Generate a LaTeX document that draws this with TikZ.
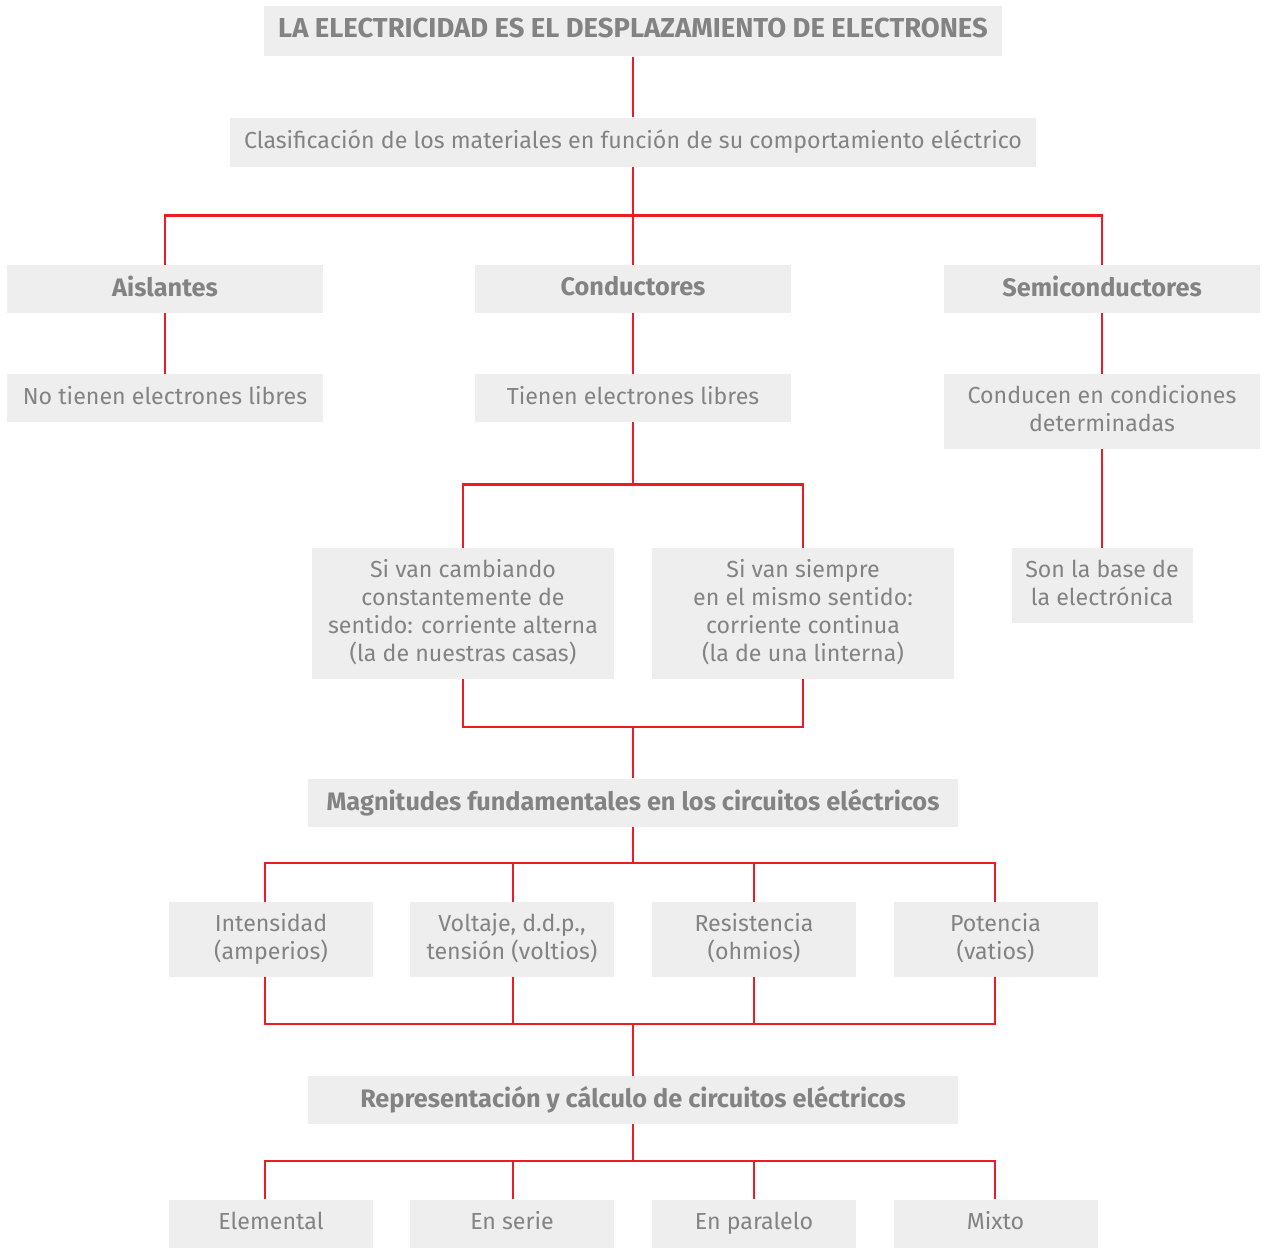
\documentclass[tikz,border=0pt]{standalone}
\usepackage{fontspec}
\setmainfont{Fira Sans}
\usepackage{tikz}
\usetikzlibrary{calc,positioning}
\definecolor{boxgray}{HTML}{EDEEED}
\definecolor{textgray}{HTML}{838383}
\definecolor{linered}{HTML}{EC1C24}
\tikzstyle{box}     = [fill=boxgray, text=textgray, align=center, inner sep=0pt, font=\fontsize{13.2}{15.9}\selectfont, execute at begin node={\rule[-3.2pt]{0pt}{12.8pt}}]
\tikzstyle{head}    = [box, font=\fontsize{14.4}{15.9}\selectfont\bfseries]
\tikzstyle{link}    = [linered, line width=1.6pt]

\begin{document}
\begin{tikzpicture}[x=0.02cm, y=-0.02cm]
        \useasboundingbox (0,0) rectangle (1266,1248);

        % top of the map
        \node[head, font=\fontsize{15.6}{15.9}\selectfont\bfseries, minimum width=14.78cm, minimum height=1.02cm] (title) at (633,31) {LA ELECTRICIDAD ES EL DESPLAZAMIENTO DE ELECTRONES};
        \node[box, minimum width=16.14cm, minimum height=0.98cm] (clasif) at (633,142) {Clasificación de los materiales en función de su comportamiento eléctrico};

        % three families of materials
        \node[head, minimum width=6.34cm, minimum height=0.96cm] (aisl) at (165,289) {Aislantes};
        \node[head, minimum width=6.34cm, minimum height=0.96cm] (cond) at (633,289) {Conductores};
        \node[head, minimum width=6.34cm, minimum height=0.96cm] (semi) at (1102,289) {Semiconductores};

        \node[box, minimum width=6.34cm, minimum height=0.96cm] (aisl2) at (165,398) {No tienen electrones libres};
        \node[box, minimum width=6.34cm, minimum height=0.96cm] (cond2) at (633,398) {Tienen electrones libres};
        \node[box, minimum width=6.34cm, minimum height=1.5cm] (semi2) at (1102,411.5) {Conducen en condiciones\\determinadas};

        % kinds of current
        \node[box, minimum width=6.04cm, minimum height=2.62cm] (alt) at (463,613.5) {Si van cambiando\\constantemente de\\sentido: corriente alterna\\(la de nuestras casas)};
        \node[box, minimum width=6.04cm, minimum height=2.62cm] (cont) at (803,613.5) {Si van siempre\\en el mismo sentido:\\corriente continua\\(la de una linterna)};
        \node[box, minimum width=3.62cm, minimum height=1.5cm] (semi3) at (1102,585.5) {Son la base de\\la electrónica};

        % magnitudes
        \node[head, minimum width=13cm, minimum height=0.96cm] (magn) at (633,802.5) {Magnitudes fundamentales en los circuitos eléctricos};
        \node[box, minimum width=4.08cm, minimum height=1.5cm] (int) at (271,939.5) {Intensidad\\(amperios)};
        \node[box, minimum width=4.08cm, minimum height=1.5cm] (volt) at (512,939.5) {Voltaje, d.d.p.,\\tensión (voltios)};
        \node[box, minimum width=4.08cm, minimum height=1.5cm] (res) at (754,939.5) {Resistencia\\(ohmios)};
        \node[box, minimum width=4.08cm, minimum height=1.5cm] (pot) at (995.5,939.5) {Potencia\\(vatios)};

        % circuits
        \node[head, minimum width=13cm, minimum height=0.96cm] (repr) at (633,1100) {Representación y cálculo de circuitos eléctricos};
        \node[box, minimum width=4.08cm, minimum height=0.96cm] (elem) at (271,1223.5) {Elemental};
        \node[box, minimum width=4.08cm, minimum height=0.96cm] (serie) at (512,1223.5) {En serie};
        \node[box, minimum width=4.08cm, minimum height=0.96cm] (para) at (754,1223.5) {En paralelo};
        \node[box, minimum width=4.08cm, minimum height=0.96cm] (mixto) at (995.5,1223.5) {Mixto};

        % connectors
        \draw[link] (title) -- (clasif);
        \draw[link] (clasif.south) -- ++(0,49) -| (aisl.north);
        \draw[link] (clasif.south) -- (cond.north);
        \draw[link] (clasif.south) -- ++(0,49) -| (semi.north);
        \draw[link] (aisl) -- (aisl2);
        \draw[link] (cond) -- (cond2);
        \draw[link] (semi) -- (semi2);
        \draw[link] (semi2) -- (semi3);

        \draw[link] (cond2.south) -- ++(0,62) -| (alt.north);
        \draw[link] (cond2.south) -- ++(0,62) -| (cont.north);
        \draw[link] (alt.south) |- (magn.north |- 0,727) -- (magn.north);
        \draw[link] (cont.south) |- (magn.north |- 0,727);

        \coordinate (mbus) at (633,863);
        \coordinate (jbus) at (633,1024);
        \draw[link] (magn.south) -- (mbus);
        \foreach \n/\x in {int/265,volt/513,res/754,pot/995}{
                \draw[link] (mbus) -| (\x,863) -- (\n.north -| \x,0);
                \draw[link] (\n.south -| \x,0) -- (\x,1024) -| (jbus);
        }
        \draw[link] (jbus) -- (repr.north);

        \coordinate (rbus) at (633,1161);
        \draw[link] (repr.south) -- (rbus);
        \foreach \n/\x in {elem/265,serie/513,para/754,mixto/995}{
                \draw[link] (rbus) -| (\x,1161) -- (\n.north -| \x,0);
        }
\end{tikzpicture}
\end{document}
